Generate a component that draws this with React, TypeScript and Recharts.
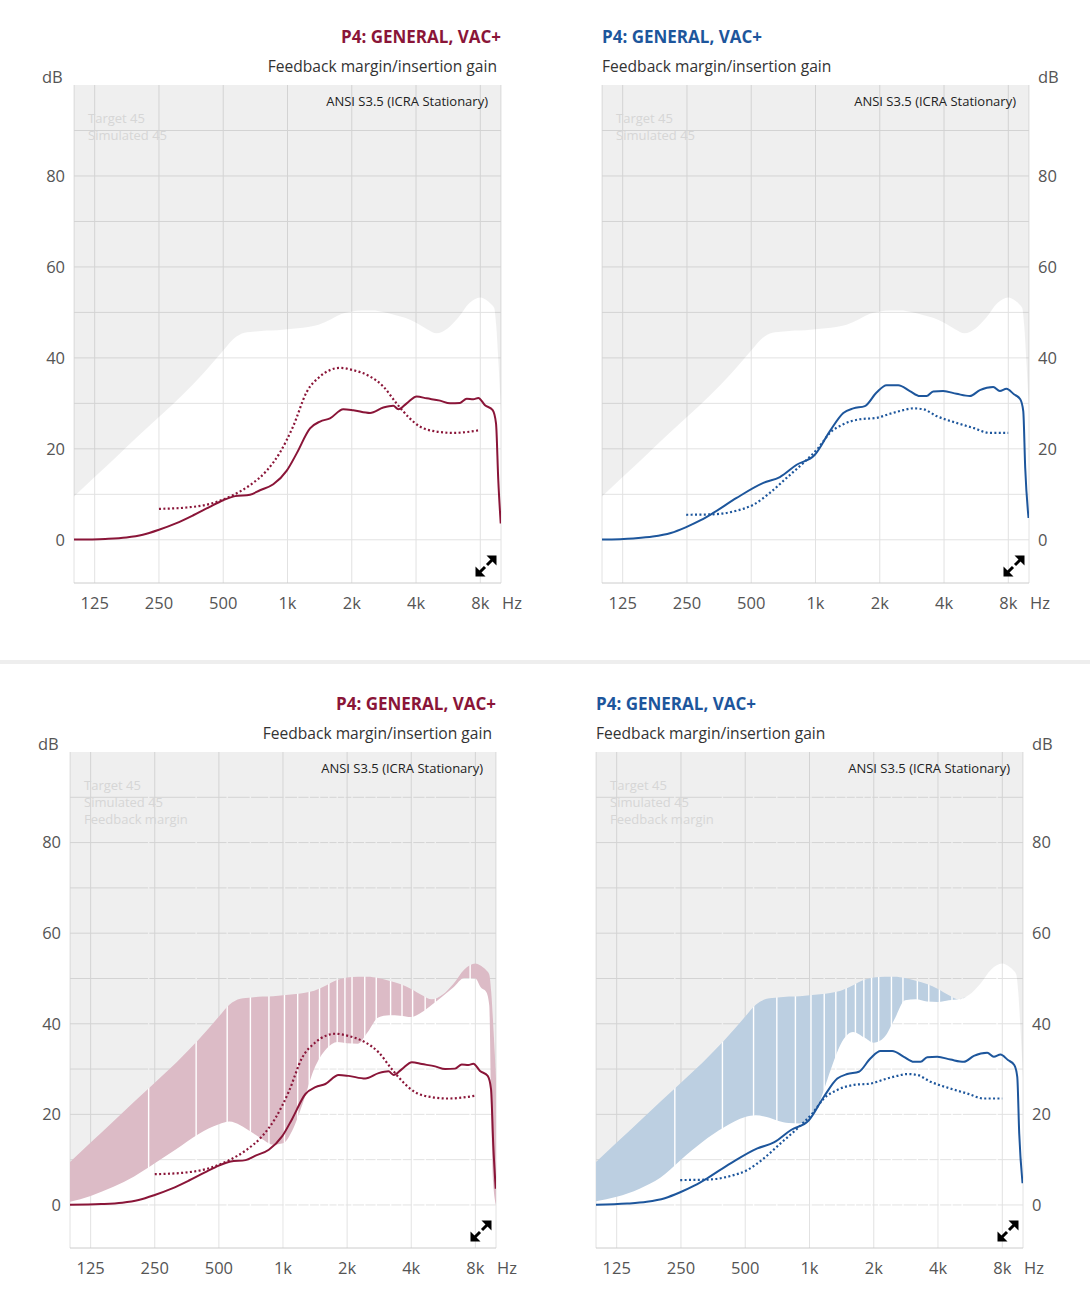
import React from 'react'
import {
  ComposedChart,
  Area,
  Line,
  XAxis,
  YAxis,
  CartesianGrid,
  ReferenceLine,
} from 'recharts'

const FONT = "'Open Sans', 'Noto Sans', sans-serif"
const RED = '#8a1538'
const BLUE = '#1d569c'
const RED_BAND = '#dcbbc6'
const BLUE_BAND = '#bccfe1'

// axis ticks
const freqTicks = [125, 250, 500, 1000, 2000, 4000, 8000]
const freqTickLabels = ['125', '250', '500', '1k', '2k', '4k', '8k']
const dbTicks = [0, 20, 40, 60, 80]
const dbGridLines = [0, 10, 20, 30, 40, 50, 60, 70, 80, 90]
const freqGridLines = [100, 125, 250, 500, 1000, 2000, 4000, 8000, 10000]

// feedback limit (grey boundary) and lower edge of the feedback margin band
const limitFreqs = [
  100, 125, 160, 200, 250, 315, 400, 500, 560, 630, 710, 800, 900, 1000, 1120, 1250, 1400,
  1600, 1800, 2000, 2240, 2500, 2800, 3150, 3550, 4000, 4500, 5000, 5600, 6300, 7100, 8000,
  8500, 9000, 9300, 9500, 9700, 10000,
]
const upperLimit = [
  9.5, 13.8, 18.5, 22.8, 27.0, 31.4, 36.4, 41.6, 44.2, 45.5, 45.8, 46.0, 46.1, 46.3, 46.5, 46.8,
  47.3, 48.5, 49.7, 50.2, 50.4, 50.4, 50.1, 49.5, 48.8, 47.7, 46.3, 45.4, 46.4, 48.8, 52.0, 53.3,
  52.8, 51.8, 50.9, 47.0, 40.0, 28.0,
]
const redLower = [
  0.7, 2.0, 4.0, 6.3, 9.2, 12.3, 15.6, 17.8, 18.4, 17.6, 16.1, 14.5, 13.3, 13.6, 17.0, 23.0,
  30.0, 34.5, 36.0, 35.7, 35.6, 38.2, 41.4, 41.9, 41.8, 41.5, 42.6, 44.2, 46.0, 48.0, 50.1, 50.0,
  48.0, 47.0, 44.0, 20.0, 5.0, 0,
]
const blueLower = [
  0.8, 1.8, 3.6, 6.0, 10.0, 13.9, 17.2, 19.4, 19.8, 19.4, 18.6, 18.1, 18.0, 18.9, 23.0, 29.5,
  35.5, 38.2, 37.0, 35.8, 37.0, 41.0, 45.2, 45.4, 44.9, 44.8, 45.2, 45.4, 46.4, 48.8, 52.0, 53.3,
  52.8, 51.8, 50.9, 47.0, 40.0, 28.0,
]
// white seams visible inside the band
const seamFreqs = [
  234, 391, 547, 703, 859, 1016, 1172, 1328, 1484, 1641, 1797, 1953, 2109, 2420, 2740, 3200,
  3620, 4060, 4650, 5190, 7560,
]

// P4 red: simulated (solid) and target (dotted)
const redSimFreqs = [
  100, 140, 176, 210, 250, 300, 362, 430, 500, 568, 667, 743, 858, 992, 1104, 1275, 1420, 1581,
  1825, 2033, 2435, 2811, 3130, 3304, 3617, 4029, 4487, 5180, 5770, 6426, 6910, 7416, 7828, 8415,
  9144, 9476, 9711, 9969,
]
const redSim = [
  0.05, 0.2, 0.5, 1.1, 2.2, 3.6, 5.4, 7.2, 8.7, 9.6, 9.9, 10.9, 12.2, 15.2, 19.0, 24.5, 26.0,
  26.7, 28.7, 28.5, 27.9, 29.1, 29.5, 28.7, 30.0, 31.5, 31.1, 30.6, 30.0, 30.1, 31.0, 30.9, 31.2,
  29.6, 28.5, 25.6, 13.1, 3.6,
]
const redTgtFreqs = [
  250, 337, 434, 557, 667, 799, 922, 1064, 1230, 1420, 1762, 2033, 2435, 2811, 3240, 3740, 4170,
  4997, 5979, 7950,
]
const redTgt = [
  6.8, 7.1, 7.9, 9.85, 12.0, 15.2, 19.2, 25.0, 32.5, 35.9, 37.8, 37.3, 35.9, 33.7, 30.0, 26.7,
  24.9, 23.8, 23.5, 24.1,
]

// P4 blue: simulated (solid) and target (dotted)
const blueSimFreqs = [
  100, 140, 173, 210, 248, 290, 332, 427, 570, 681, 816, 993, 1168, 1350, 1503, 1703, 1932, 2152,
  2442, 2767, 3082, 3313, 3560, 3967, 4576, 5282, 5886, 6799, 7301, 7846, 8500, 9100, 9400, 9600,
  9950,
]
const blueSim = [
  0.05, 0.3, 0.7, 1.5, 2.8, 4.3, 5.9, 9.2, 12.5, 13.8, 16.5, 18.7, 23.9, 27.9, 28.9, 29.4, 32.4,
  34.0, 34.0, 32.7, 31.6, 31.6, 32.6, 32.7, 32.1, 31.6, 32.9, 33.6, 32.7, 33.2, 32.0, 30.9, 28.3,
  15.8, 4.8,
]
const blueTgtFreqs = [
  248, 332, 427, 511, 611, 732, 877, 1031, 1168, 1350, 1613, 1932, 2230, 2576, 2869, 3195, 3689,
  4576, 5480, 6553, 7990,
]
const blueTgt = [
  5.5, 5.6, 6.4, 7.7, 10.3, 13.6, 16.9, 20.2, 23.5, 25.4, 26.5, 26.8, 27.7, 28.5, 28.9, 28.7,
  27.2, 25.7, 24.6, 23.5, 23.5,
]

const series = (freqs: number[], vals: number[]) => freqs.map((f, i) => ({ f, v: vals[i] }))
const bandTable = (lower: number[] | null) =>
  limitFreqs.map((f, i) => ({ f, upper: upperLimit[i], lower: lower ? lower[i] : upperLimit[i] }))

interface PanelProps {
  chartLeft: number
  chartTop: number
  width: number
  height: number
  plotLeft: number
  plotRight: number
  plotTop: number
  plotBottom: number
  side: 'left' | 'right'
  color: string
  bandColor?: string
  lower: number[] | null
  sim: { f: number; v: number }[]
  tgt: { f: number; v: number }[]
  legend: string[]
}

function ExpandIcon({ left, top }: { left: number; top: number }) {
  return (
    <svg
      width={24}
      height={24}
      viewBox="0 0 24 24"
      style={{ position: 'absolute', left, top }}
    >
      <line x1={13} y1={11} x2={18.5} y2={5.5} stroke="#000" strokeWidth={3} />
      <polygon points="12.5,1.5 22.5,1.5 22.5,11.5" fill="#000" />
      <line x1={11} y1={13} x2={5.5} y2={18.5} stroke="#000" strokeWidth={3} />
      <polygon points="1.5,12.5 1.5,22.5 11.5,22.5" fill="#000" />
    </svg>
  )
}

function Txt({
  x,
  cy,
  align,
  size,
  color,
  bold,
  children,
}: {
  x: number
  cy: number
  align: 'left' | 'right'
  size: number
  color: string
  bold?: boolean
  children: React.ReactNode
}) {
  const style: React.CSSProperties = {
    position: 'absolute',
    top: cy - 10,
    lineHeight: '20px',
    fontSize: size,
    fontFamily: FONT,
    fontWeight: bold ? 700 : 400,
    color,
    whiteSpace: 'nowrap',
  }
  if (align === 'left') style.left = x
  else style.right = 1090 - x
  return <div style={style}>{children}</div>
}

function Panel(p: PanelProps) {
  const isLeft = p.side === 'left'
  const xAxisHeight = 40
  const margin = {
    top: p.plotTop - p.chartTop,
    bottom: p.chartTop + p.height - p.plotBottom - xAxisHeight,
    left: isLeft ? 0 : p.plotLeft - p.chartLeft,
    right: isLeft ? p.chartLeft + p.width - p.plotRight : 0,
  }
  const yAxisWidth = isLeft ? p.plotLeft - p.chartLeft : p.chartLeft + p.width - p.plotRight
  const tickStyle = { fill: '#555', fontSize: 16.5, fontFamily: FONT }
  const hasBand = p.lower !== null

  return (
    <>
      <div style={{ position: 'absolute', left: p.chartLeft, top: p.chartTop }}>
        <ComposedChart width={p.width} height={p.height} data={bandTable(p.lower)} margin={margin}>
          <CartesianGrid
            stroke="#e2e2e2"
            horizontalValues={dbGridLines}
            verticalValues={freqGridLines}
          />
          <XAxis
            dataKey="f"
            type="number"
            scale="log"
            domain={[100, 10000]}
            allowDataOverflow
            ticks={freqTicks}
            interval={0}
            tickFormatter={(v: number) => freqTickLabels[freqTicks.indexOf(v)] ?? ''}
            tickLine={false}
            axisLine={{ stroke: '#cccccc' }}
            tick={tickStyle}
            tickMargin={8}
            height={xAxisHeight}
          />
          <YAxis
            type="number"
            domain={[-9.5, 100]}
            allowDataOverflow
            ticks={dbTicks}
            interval={0}
            orientation={p.side}
            width={yAxisWidth}
            axisLine={false}
            tickLine={false}
            tick={tickStyle}
            tickMargin={3}
          />
          {hasBand && (
            <Area
              dataKey={(d: any) => [d.lower, d.upper]}
              type="monotone"
              fill={p.bandColor}
              fillOpacity={1}
              stroke="none"
              isAnimationActive={false}
              zIndex={100}
            />
          )}
          {hasBand &&
            seamFreqs.map((f) => (
              <ReferenceLine key={f} x={f} stroke="#ffffff" strokeWidth={1.4} zIndex={110} />
            ))}
          <Area
            dataKey={(d: any) => [d.upper, 100]}
            type="monotone"
            fill="#000000"
            fillOpacity={0.063}
            stroke="none"
            isAnimationActive={false}
            zIndex={120}
          />
          <Line
            data={p.tgt}
            dataKey="v"
            type="monotone"
            stroke={p.color}
            strokeWidth={2.2}
            strokeDasharray="2 2.4"
            dot={false}
            activeDot={false}
            isAnimationActive={false}
          />
          <Line
            data={p.sim}
            dataKey="v"
            type="monotone"
            stroke={p.color}
            strokeWidth={2}
            dot={false}
            activeDot={false}
            isAnimationActive={false}
          />
        </ComposedChart>
      </div>

      {isLeft ? (
        <>
          <Txt x={p.plotRight} cy={p.plotTop - 48} align="right" size={17} color={p.color} bold>
            P4: GENERAL, VAC+
          </Txt>
          <Txt x={p.plotRight - 4} cy={p.plotTop - 19} align="right" size={15.6} color="#333">
            Feedback margin/insertion gain
          </Txt>
          <Txt x={p.plotLeft - 32} cy={p.plotTop - 8} align="left" size={16.5} color="#555">
            dB
          </Txt>
          <Txt x={p.plotRight + 1} cy={p.plotBottom + 20} align="left" size={16.5} color="#555">
            Hz
          </Txt>
        </>
      ) : (
        <>
          <Txt x={p.plotLeft} cy={p.plotTop - 48} align="left" size={17} color={p.color} bold>
            P4: GENERAL, VAC+
          </Txt>
          <Txt x={p.plotLeft} cy={p.plotTop - 19} align="left" size={15.6} color="#333">
            Feedback margin/insertion gain
          </Txt>
          <Txt x={p.plotRight + 9} cy={p.plotTop - 8} align="left" size={16.5} color="#555">
            dB
          </Txt>
          <Txt x={p.plotRight + 1} cy={p.plotBottom + 20} align="left" size={16.5} color="#555">
            Hz
          </Txt>
        </>
      )}
      <Txt x={p.plotRight - 13} cy={p.plotTop + 16} align="right" size={13} color="#222">
        ANSI S3.5 (ICRA Stationary)
      </Txt>
      {p.legend.map((t, i) => (
        <Txt key={t} x={p.plotLeft + 14} cy={p.plotTop + 33 + i * 17} align="left" size={13} color="#d6d6d6">
          {t}
        </Txt>
      ))}
      <ExpandIcon left={p.plotRight - 27} top={p.plotBottom - 29} />
    </>
  )
}

export default function App() {
  return (
    <div
      style={{
        position: 'absolute',
        left: 0,
        top: 0,
        width: 1090,
        height: 1291,
        background: '#fff',
        overflow: 'hidden',
      }}
    >
      <Panel
        chartLeft={0}
        chartTop={0}
        width={545}
        height={640}
        plotLeft={74}
        plotRight={501}
        plotTop={85}
        plotBottom={583}
        side="left"
        color={RED}
        lower={null}
        sim={series(redSimFreqs, redSim)}
        tgt={series(redTgtFreqs, redTgt)}
        legend={['Target 45', 'Simulated 45']}
      />
      <Panel
        chartLeft={545}
        chartTop={0}
        width={545}
        height={640}
        plotLeft={602}
        plotRight={1029}
        plotTop={85}
        plotBottom={583}
        side="right"
        color={BLUE}
        lower={null}
        sim={series(blueSimFreqs, blueSim)}
        tgt={series(blueTgtFreqs, blueTgt)}
        legend={['Target 45', 'Simulated 45']}
      />
      <div
        style={{ position: 'absolute', left: 0, top: 660, width: 1090, height: 4, background: '#eeeeee' }}
      />
      <Panel
        chartLeft={0}
        chartTop={640}
        width={545}
        height={651}
        plotLeft={70}
        plotRight={496}
        plotTop={752}
        plotBottom={1248}
        side="left"
        color={RED}
        bandColor={RED_BAND}
        lower={redLower}
        sim={series(redSimFreqs, redSim)}
        tgt={series(redTgtFreqs, redTgt)}
        legend={['Target 45', 'Simulated 45', 'Feedback margin']}
      />
      <Panel
        chartLeft={545}
        chartTop={640}
        width={545}
        height={651}
        plotLeft={596}
        plotRight={1023}
        plotTop={752}
        plotBottom={1248}
        side="right"
        color={BLUE}
        bandColor={BLUE_BAND}
        lower={blueLower}
        sim={series(blueSimFreqs, blueSim)}
        tgt={series(blueTgtFreqs, blueTgt)}
        legend={['Target 45', 'Simulated 45', 'Feedback margin']}
      />
    </div>
  )
}
